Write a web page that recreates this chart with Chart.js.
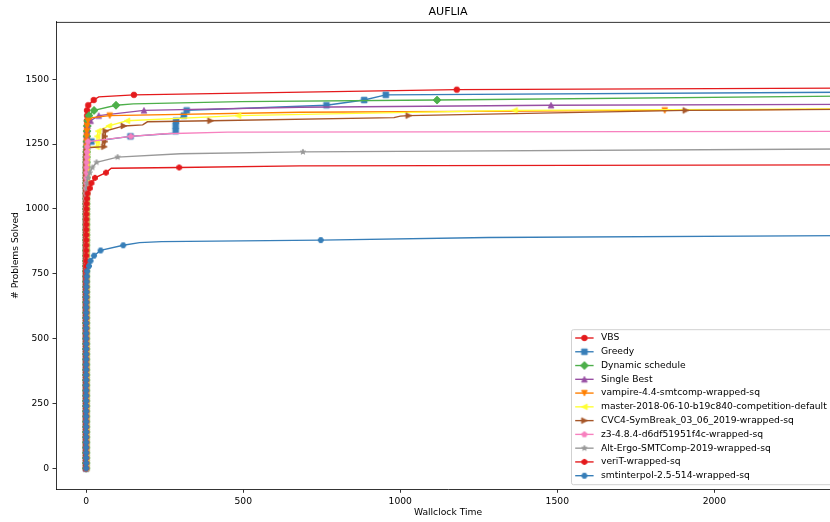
<!DOCTYPE html>
<html><head><meta charset="utf-8">
<script src="https://cdn.jsdelivr.net/npm/chart.js@4.4.1/dist/chart.umd.min.js"></script>
<style>
html,body{margin:0;padding:0;background:#fff;overflow:hidden;width:830px;height:522px}
#wrap{position:absolute;left:0;top:0;width:850px;height:522px}
</style></head><body>
<div id="wrap"><canvas id="c"></canvas></div>
<script>
// ---- data: time (s) at which every 20th problem was solved (index i -> 20*i problems) ----
const seriesNames = ['VBS','Greedy','Dynamic schedule','Single Best','vampire-4.4-smtcomp-wrapped-sq',
  'master-2018-06-10-b19c840-competition-default','CVC4-SymBreak_03_06_2019-wrapped-sq',
  'z3-4.8.4-d6df51951f4c-wrapped-sq','Alt-Ergo-SMTComp-2019-wrapped-sq','veriT-wrapped-sq','smtinterpol-2.5-514-wrapped-sq'];
const seriesColors = ['#e41a1c','#377eb8','#4daf4a','#984ea3','#ff7f00','#ffff33','#a65628','#f781bf','#999999','#e41a1c','#377eb8'];
const seriesMarkers = ['o','s','D','^','v','<','>','p','*','h','H'];

const vbsMarks = [0,0,0,0,0,0,0,0,0,0, 0,0,0,0,0,0,0,0,0,0, 0,0,0,0,0,0,0,0,0,0, 0,0,0,0,0,0,0,0,0.1,0.1,
  0.1,0.1,0.1,0.1,0.1,0.2,0.2,0.2,0.2,0.2, 0.3,0.3,0.3,0.4,0.4,0.5,0.5,0.6,0.7,0.8,
  0.9,1.0,1.1,1.3,1.5,1.7,2.0,2.4,3.0,2.5, 6.5,24,152,1180];
const vbsExtra = [[40,1432],[2400,1466]];

const greedyMarks = [0,0,0,0,0,0,0,0,0,0, 0,0,0,0,0,0,0,0,0,0, 0,0,0,0,0,0,0,0,0,0, 0,0,0,0,0,0,0,0,0.1,0.1,
  0.1,0.1,0.1,0.2,0.2,0.2,0.2,0.3,0.3,0.3, 0.4,0.4,0.5,0.5,0.6,0.7,0.8,0.9,1.0,1.2,
  1.5,2.0,3.0,17,141,285,285,286,311,320, 765,885,954];
const greedyExtra = [[280,1292],[2400,1450]];

const dynMarks = [0,0,0,0,0,0,0,0,0,0, 0,0,0,0,0,0,0,0,0,0, 0,0,0,0,0,0,0,0,0,0, 0,0,0,0,0,0,0,0,0.1,0.1,
  0.1,0.1,0.1,0.1,0.2,0.2,0.2,0.2,0.3,0.3, 0.3,0.4,0.4,0.5,0.5,0.6,0.7,0.8,0.9,1.0,
  1.2,1.4,1.6,1.9,2.3,2.8,3.5,5,9,25, 95,1117];
const dynExtra = [[150,1405],[490,1414],[2400,1435]];

const singleMarks = [0,0,0,0,0,0,0,0,0,0, 0,0,0,0,0,0,0,0,0,0, 0,0,0,0,0,0,0,0,0,0, 0,0,0,0,0,0,0,0,0.1,0.1,
  0.1,0.1,0.1,0.1,0.2,0.2,0.2,0.2,0.3,0.3, 0.3,0.4,0.4,0.5,0.5,0.6,0.7,0.8,0.9,1.0,
  1.2,1.4,1.6,1.9,2.3,2.8,4,14,40,184, 1480];
const singleExtra = [[680,1392],[2400,1403]];

const vampireMarks = [0,0,0,0,0,0,0,0,0,0, 0,0,0,0,0,0,0,0,0,0, 0,0,0,0,0,0,0,0,0,0, 0,0,0,0,0,0,0,0,0.1,0.1,
  0.1,0.1,0.1,0.1,0.2,0.2,0.2,0.2,0.3,0.3, 0.3,0.4,0.4,0.5,0.5,0.6,0.7,0.8,0.9,1.0,
  1.2,1.4,1.6,1.8,2.0,2.3,2.8,6,75,1842];
const vampireExtra = [[20,1352],[680,1373],[2400,1385]];

const masterMarks = [0,0,0,0,0,0,0,0,0,0, 0,0,0,0,0,0,0,0,0,0, 0,0,0,0,0,0,0,0,0,0, 0,0,0,0,0,0,0,0,0.1,0.1,
  0.1,0.1,0.1,0.1,0.2,0.2,0.2,0.2,0.3,0.3, 0.3,0.4,0.4,0.5,0.5,0.6,0.7,0.8,0.9,1.0,
  1.5,2.0,33,34,35,38,72,130,484,1364];
const masterExtra = [[3,1236],[2400,1386]];

const cvc4Marks = [0,0,0,0,0,0,0,0,0,0, 0,0,0,0,0,0,0,0,0,0, 0,0,0,0,0,0,0,0,0,0, 0,0,0,0,0,0,0,0,0.1,0.1,
  0.1,0.1,0.1,0.1,0.2,0.2,0.2,0.2,0.3,0.3, 0.3,0.4,0.4,0.5,0.5,0.6,0.7,0.8,0.9,1.0,
  1.5,2.0,58,60,60,62,120,396,1027,1909];
const cvc4Extra = [[3,1236],[180,1324],[195,1336],[980,1352],[1000,1358],[2400,1384]];

const z3Marks = [0,0,0,0,0,0,0,0,0,0, 0,0,0,0,0,0,0,0,0,0, 0,0,0,0,0,0,0,0,0,0, 0,0,0,0,0,0,0,0,0.1,0.1,
  0.1,0.1,0.1,0.1,0.2,0.2,0.2,0.2,0.3,0.3, 0.3,0.4,0.4,0.5,0.5,0.6,0.7,0.8,0.9,1.0,
  2.0,2.5,3.5,6,142];
const z3Extra = [[250,1290],[450,1296],[2400,1299]];

const altMarks = [0,0,0,0,0,0,0,0,0,0, 0,0,0,0,0,0,0,0,0,0, 0,0,0,0,0,0,0,0,0,0, 0,0,0,0,0,0,0,0,0.1,0.1,
  0.1,0.1,0.1,0.1,0.2,0.2,0.2,0.3,0.3,0.4, 0.5,0.7,0.9,1.2,1.6,3,6,12,20,33,
  100,690];
const altExtra = [[300,1213],[2400,1231]];

const veritMarks = [0,0,0,0,0,0,0,0,0,0, 0,0,0,0,0,0,0,0,0,0, 0,0,0,0,0,0,0,0,0,0, 0,0,0,0,0,0,0,0,0.1,0.1,
  0.1,0.1,0.1,0.2,0.2,0.2,0.3,0.4,0.5,0.7, 1.0,1.5,2.5,4.5,12,17,28,63,296];
const veritExtra = [[80,1157],[680,1166],[2400,1170]];

const smtiMarks = [0,0,0,0,0,0,0,0,0,0, 0,0,0,0,0,0,0,0,0,0, 0,0,0,0,0,0,0,0,0.1,0.1,
  0.2,0.3,0.4,0.5,0.7,0.9,1.2,1.8,3,9, 14,25,46,118,747];
const smtiExtra = [[170,870],[240,874],[1280,890],[2400,897]];

const xTicks = [0,500,1000,1500,2000];
const yTicks = [0,250,500,750,1000,1250,1500];

const allMarks = [vbsMarks,greedyMarks,dynMarks,singleMarks,vampireMarks,masterMarks,cvc4Marks,z3Marks,altMarks,veritMarks,smtiMarks];
const allExtra = [vbsExtra,greedyExtra,dynExtra,singleExtra,vampireExtra,masterExtra,cvc4Extra,z3Extra,altExtra,veritExtra,smtiExtra];

// ---- rendering ----
const FONT = '"DejaVu Sans", "Liberation Sans", sans-serif';
const MS = 5.6;
function markerCanvas(shape, color){
  const S=14, c=document.createElement('canvas'); c.width=S; c.height=S;
  const g=c.getContext('2d'); g.translate(S/2,S/2);
  const h=MS/2;
  const poly=(n,r,rot)=>{for(let k=0;k<n;k++){const a=rot+k*2*Math.PI/n;const px=r*Math.sin(a),py=-r*Math.cos(a);k?g.lineTo(px,py):g.moveTo(px,py);}};
  g.beginPath();
  switch(shape){
    case 'o': g.arc(0,0,h,0,Math.PI*2); break;
    case 's': g.rect(-h,-h,MS,MS); break;
    case 'D': poly(4,MS*Math.SQRT1_2,0); break;
    case '^': g.moveTo(0,-h); g.lineTo(h,h); g.lineTo(-h,h); break;
    case 'v': g.moveTo(0,h); g.lineTo(h,-h); g.lineTo(-h,-h); break;
    case '<': g.moveTo(-h,0); g.lineTo(h,-h); g.lineTo(h,h); break;
    case '>': g.moveTo(h,0); g.lineTo(-h,-h); g.lineTo(-h,h); break;
    case 'p': poly(5,h,0); break;
    case 'h': poly(6,h,0); break;
    case 'H': poly(6,h,Math.PI/6); break;
    case '*': for(let k=0;k<10;k++){const r=k%2?h*0.381966:h;const a=k*Math.PI/5;const px=r*Math.sin(a),py=-r*Math.cos(a);k?g.lineTo(px,py):g.moveTo(px,py);} break;
  }
  g.closePath(); g.fillStyle=color; g.fill(); g.lineWidth=0.92; g.strokeStyle=color; g.stroke();
  return c;
}
function buildPoints(marks, extra){
  const pts = marks.map((t,i)=>({x:t, y:i*20, m:true}));
  extra.forEach(([t,c])=>pts.push({x:t, y:c, m:false}));
  pts.sort((a,b)=>a.y-b.y);
  return pts;
}
const markerImgs = seriesNames.map((n,i)=>markerCanvas(seriesMarkers[i], seriesColors[i]));
const datasets = seriesNames.map((name,i)=>({
  label: name,
  data: buildPoints(allMarks[i], allExtra[i]),
  borderColor: seriesColors[i],
  backgroundColor: seriesColors[i],
  borderWidth: 1.38,
  pointStyle: markerImgs[i],
  pointRadius: ctx => (ctx.raw && ctx.raw.m) ? 3 : 0,
  pointHoverRadius: ctx => (ctx.raw && ctx.raw.m) ? 3 : 0,
  pointBorderWidth: 0,
  tension: 0, fill: false,
  order: -i
}));

const topSpine = {id:'topSpine', afterDatasetsDraw(chart){
  const {ctx, chartArea:a} = chart;
  ctx.save(); ctx.strokeStyle='#000'; ctx.lineWidth=0.8;
  ctx.beginPath(); ctx.moveTo(a.left, Math.round(a.top)+0.4); ctx.lineTo(a.right, Math.round(a.top)+0.4); ctx.stroke();
  ctx.restore();
}};
const mplLegend = {id:'mplLegend', afterDraw(chart){
  const {ctx, chartArea:a} = chart;
  const right = a.right - 4.6, bottom = a.bottom - 4.6;
  const left = a.right - 268.5, top = bottom - 155;
  ctx.save();
  ctx.beginPath();
  if (ctx.roundRect) ctx.roundRect(left, top, right-left, bottom-top, 2); else ctx.rect(left, top, right-left, bottom-top);
  ctx.fillStyle='rgba(255,255,255,0.8)'; ctx.fill();
  ctx.strokeStyle='#cccccc'; ctx.lineWidth=0.9; ctx.stroke();
  ctx.font = '9.2px ' + FONT; ctx.textBaseline='middle'; ctx.textAlign='left';
  seriesNames.forEach((name,i)=>{
    const y = top + 8.3 + i*13.77;
    ctx.strokeStyle = seriesColors[i]; ctx.lineWidth=1.38;
    ctx.beginPath(); ctx.moveTo(left+3.7, y); ctx.lineTo(left+22.1, y); ctx.stroke();
    const img = markerImgs[i];
    ctx.drawImage(img, left+12.9-img.width/2, y-img.height/2);
    ctx.fillStyle='#000'; ctx.fillText(name, left+29.5, y);
  });
  ctx.restore();
}};

new Chart(document.getElementById('c'), {
  type: 'line',
  data: { datasets },
  options: {
    responsive: true, maintainAspectRatio: false, animation: false, devicePixelRatio: 1,
    events: [],
    layout: { padding: {left:0, right:10, top:0, bottom:0} },
    plugins: {
      legend: {display:false}, tooltip: {enabled:false},
      title: { display:true, text:'AUFLIA', fullSize:false, color:'#000',
        font:{family:FONT, size:11.1, weight:'normal', lineHeight:1.2},
        padding:{top:5.84, bottom:2.54} }
    },
    scales: {
      x: { type:'linear', min:-96, max:2400,
        afterBuildTicks: s => { s.ticks = xTicks.map(v=>({value:v})); },
        afterFit: s => { s.height = 32.7; },
        grid: { display:true, drawOnChartArea:false, drawTicks:true, tickLength:3.5, color:'#000', lineWidth:0.8 },
        border: { display:true, color:'#000', width:0.8, z:1 },
        ticks: { color:'#000', padding:3.5, maxRotation:0, autoSkip:false, font:{family:FONT, size:9.2}, callback: v => String(v) },
        title: { display:true, text:'Wallclock Time', color:'#000', font:{family:FONT, size:9.2, lineHeight:1.2}, padding:{top:0, bottom:3.8} }
      },
      y: { type:'linear', min:-81, max:1722,
        afterBuildTicks: s => { s.ticks = yTicks.map(v=>({value:v})); },
        afterFit: s => { s.width = 56; },
        grid: { display:true, drawOnChartArea:false, drawTicks:true, tickLength:3.5, color:'#000', lineWidth:0.8 },
        border: { display:true, color:'#000', width:0.8, z:1 },
        ticks: { color:'#000', padding:3.5, autoSkip:false, font:{family:FONT, size:9.2}, callback: v => String(v) },
        title: { display:true, text:'# Problems Solved', color:'#000', font:{family:FONT, size:9.2, lineHeight:1.2}, padding:{top:10.5, bottom:0} }
      }
    }
  },
  plugins: [topSpine, mplLegend]
});
</script>
</body></html>
